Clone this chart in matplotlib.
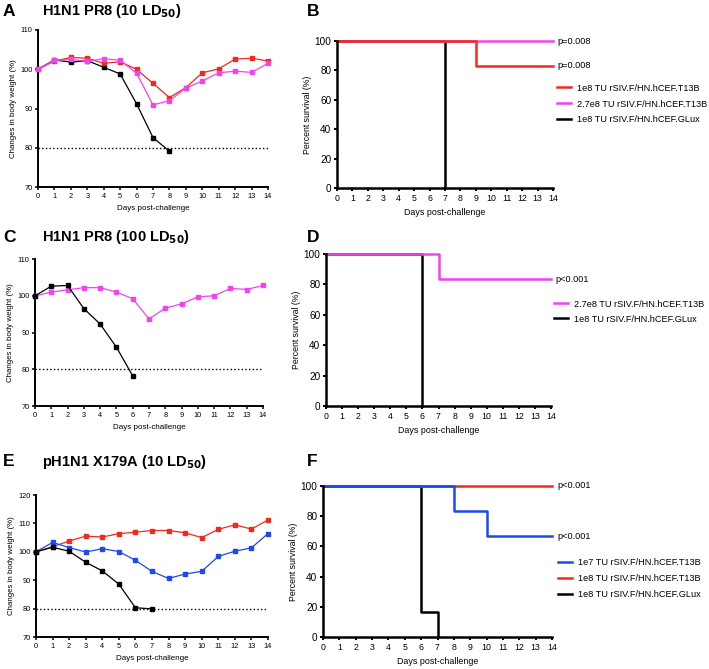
import numpy as np
import matplotlib
matplotlib.use('Agg')
import matplotlib.pyplot as plt

plt.rcParams['font.family'] = ['Liberation Sans', 'DejaVu Sans']

RED = '#ee2b1e'
MAG = '#f044f0'
BLUE = '#1f48ee'
BLK = '#000000'

days = list(range(15))

# Panel A - H1N1 PR8 (10 LD50), body weight
a_red = [100, 102.1, 103, 102.8, 101.5, 101.9, 100, 96.4, 92.8, 95.3, 99.1, 100.1, 102.6, 102.8, 102.1]
a_mag = [100, 102.3, 102.5, 102, 102.7, 102.3, 99, 90.9, 92, 95.2, 97, 99.1, 99.5, 99.2, 101.5]
a_blk = [100, 102.4, 101.8, 102.2, 100.5, 98.8, 91.2, 82.6, 79.1]

# Panel B - survival
b_red_t, b_red_s = [0, 9, 14], [100, 83.3, 83.3]
b_mag_t, b_mag_s = [0, 14], [100, 100]
b_blk_t, b_blk_s = [0, 7], [100, 0]
b_labels = ['1e8 TU rSIV.F/HN.hCEF.T13B', '2.7e8 TU rSIV.F/HN.hCEF.T13B',
            '1e8 TU rSIV.F/HN.hCEF.GLux']

# Panel C - H1N1 PR8 (100 LD50)
c_mag = [100, 101, 101.6, 102.2, 102.2, 101, 99.2, 93.7, 96.6, 97.8, 99.7, 100, 102, 101.7, 102.8]
c_blk = [100, 102.6, 102.8, 96.5, 92.3, 86, 78.2]

# Panel D - survival
d_mag_t, d_mag_s = [0, 7, 14], [100, 83.3, 83.3]
d_blk_t, d_blk_s = [0, 6], [100, 0]
d_labels = ['2.7e8 TU rSIV.F/HN.hCEF.T13B', '1e8 TU rSIV.F/HN.hCEF.GLux']

# Panel E - pH1N1 X179A (10 LD50)
e_red = [100, 101.8, 103.8, 105.5, 105.2, 106.4, 106.9, 107.5, 107.5, 106.7, 105, 107.9, 109.5, 108, 111.2]
e_blue = [100, 103.3, 101.5, 99.9, 101.1, 100.1, 97, 93.1, 90.6, 92.2, 93.1, 98.4, 100.2, 101.4, 106.4]
e_blk = [100, 101.6, 100.2, 96.3, 93.3, 88.6, 80.3, 79.9]

# Panel F - survival
f_blue_t, f_blue_s = [0, 8, 10, 14], [100, 83.3, 66.7, 66.7]
f_red_t, f_red_s = [0, 14], [100, 100]
f_blk_t, f_blk_s = [0, 6, 7], [100, 16.7, 0]
f_labels = ['1e7 TU rSIV.F/HN.hCEF.T13B', '1e8 TU rSIV.F/HN.hCEF.T13B',
            '1e8 TU rSIV.F/HN.hCEF.GLux']

W, H = 709, 669
fig = plt.figure(figsize=(W / 100, H / 100), dpi=100)


def box(l, t, r, b):
    return [l / W, 1 - b / H, (r - l) / W, (b - t) / H]


def style(ax, lw):
    for s in ['top', 'right']:
        ax.spines[s].set_visible(False)
    for s in ['left', 'bottom']:
        ax.spines[s].set_linewidth(lw)
    ax.tick_params(width=lw * 0.8, length=2.5, pad=1.5)
    ax.set_xticks(days)


def weight(rect, series, ylim, yticks):
    ax = fig.add_axes(box(*rect))
    style(ax, 1.4)
    ax.tick_params(labelsize=5.3)
    ax.plot([0, 14], [80, 80], ls=':', color='k', lw=1)
    for ys, c in series:
        ax.plot(days[:len(ys)], ys, color=c, lw=0.9, marker='s', ms=3.2,
                clip_on=False, zorder=3)
    ax.set_xlim(0, 14)
    ax.set_ylim(*ylim)
    ax.set_yticks(yticks)
    ax.set_ylabel('Changes in body weight (%)', fontsize=5.7, labelpad=2)
    ax.set_xlabel('Days post-challenge', fontsize=5.8, labelpad=4)
    return ax


def survival(rect, curves, labels, anchor, spacing):
    ax = fig.add_axes(box(*rect))
    style(ax, 1.8)
    ax.tick_params(axis='x', labelsize=6.3)
    ax.tick_params(axis='y', labelsize=7.2)
    handles = {}
    for t, s, c, key in curves:
        ln, = ax.plot(t, s, color=c, lw=1.8, drawstyle='steps-post',
                      clip_on=False)
        handles[key] = ln
    ax.set_xlim(0, 14)
    ax.set_ylim(0, 100)
    ax.set_yticks([0, 20, 40, 60, 80, 100])
    ax.set_ylabel('Percent survival (%)', fontsize=6.3, labelpad=2)
    ax.set_xlabel('Days post-challenge', fontsize=6.4, labelpad=4)
    ax.legend([handles[i] for i in range(len(labels))], labels,
              loc='upper left', bbox_to_anchor=anchor, frameon=False,
              fontsize=6.6, handlelength=1.5, handletextpad=0.7,
              labelspacing=spacing, borderaxespad=0, borderpad=0)
    return ax


def heading(x, y, letter, title):
    fig.text(x / W, 1 - y / H, letter, fontsize=12.5, fontweight='bold', va='center')
    if title:
        fig.text(42 / W, 1 - y / H, title, fontsize=10.5, fontweight='bold', va='center')


# A
weight((38, 30, 268, 187), [(a_blk, BLK), (a_red, RED), (a_mag, MAG)],
       (70, 110), [70, 80, 90, 100, 110])
heading(3, 11, 'A', r'H1N1 PR8 (10 LD$_{\mathbf{50}}$)')

# B
axb = survival((337, 41, 553, 188),
               [(b_blk_t, b_blk_s, BLK, 2), (b_mag_t, b_mag_s, MAG, 1),
                (b_red_t, b_red_s, RED, 0)], b_labels, (1.018, 0.71), 0.75)
axb.text(14.3, 100, 'p=0.008', fontsize=6.6, va='center')
axb.text(14.3, 83.3, 'p=0.008', fontsize=6.6, va='center')
heading(307, 11, 'B', None)

# C
weight((35, 259, 263, 406), [(c_mag, MAG), (c_blk, BLK)],
       (70, 110), [70, 80, 90, 100, 110])
heading(3, 237, 'C', r'H1N1 PR8 (100 LD$_{\mathbf{50}}$)')

# D
axd = survival((326, 254, 551, 406),
               [(d_blk_t, d_blk_s, BLK, 1), (d_mag_t, d_mag_s, MAG, 0)],
               d_labels, (1.013, 0.70), 0.65)
axd.text(14.3, 83.3, 'p<0.001', fontsize=6.6, va='center')
heading(307, 238, 'D', None)

# E
weight((36, 495, 268, 637), [(e_red, RED), (e_blue, BLUE), (e_blk, BLK)],
       (70, 120), [70, 80, 90, 100, 110, 120])
heading(3, 462, 'E', r'pH1N1 X179A (10 LD$_{\mathbf{50}}$)')

# F
axf = survival((323, 486, 552, 637),
               [(f_blk_t, f_blk_s, BLK, 2), (f_red_t, f_red_s, RED, 1),
                (f_blue_t, f_blue_s, BLUE, 0)], f_labels, (1.026, 0.525), 0.8)
axf.text(14.3, 100, 'p<0.001', fontsize=6.6, va='center')
axf.text(14.3, 66.7, 'p<0.001', fontsize=6.6, va='center')
heading(307, 462, 'F', None)

fig.savefig('out.png', dpi=100)
